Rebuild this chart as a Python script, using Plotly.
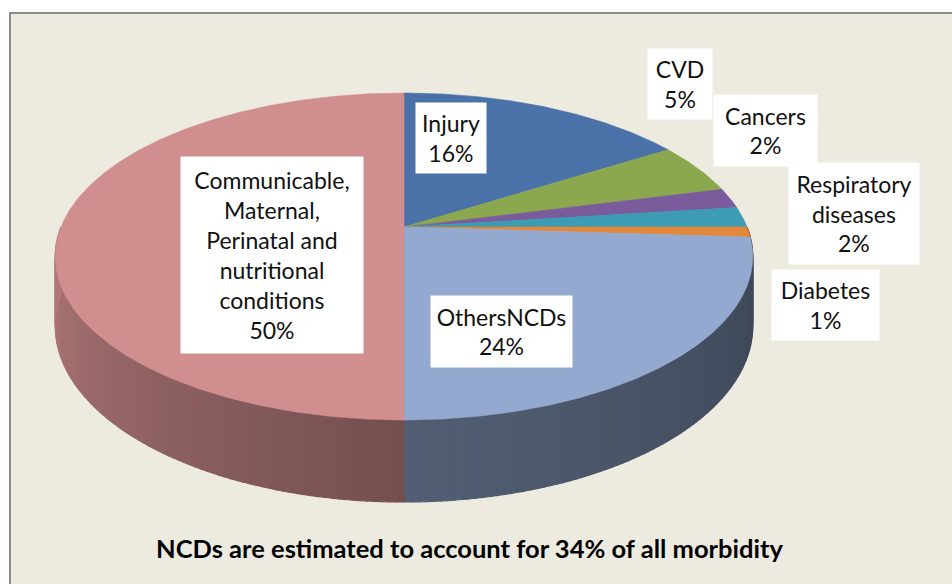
import numpy as np
import plotly.graph_objects as go

# ---- data (clockwise from 12 o'clock) ----
categories = ["Injury", "CVD", "Cancers", "Respiratory diseases", "Diabetes",
              "OthersNCDs",
              "Communicable, Maternal, Perinatal and nutritional conditions"]
values = [16, 5, 2, 2, 1, 24, 50]
display_labels = ["Injury", "CVD", "Cancers", "Respiratory<br>diseases", "Diabetes",
                  "OthersNCDs",
                  "Communicable,<br>Maternal,<br>Perinatal and<br>nutritional<br>conditions"]
colors = ["#4A72A8", "#8CA84E", "#7A5B9B", "#3B9CB3", "#E3883A", "#93A9CF", "#D08E8E"]
title_text = "NCDs are estimated to account for 34% of all morbidity"

# ---- label box layout (center x, center y, width, height) in pixel axes ----
label_boxes = [(451, 138, 70, 70), (680, 84, 64, 70), (765, 130, 103, 71),
               (854, 213, 130, 101), (825, 305, 107, 70), (501, 331, 141, 71),
               (272, 255, 182, 196)]

# ---- 3D perspective pie geometry ----
CX, APEX_Y, A = 404.0, 227.0, 343.0
B, C, DEPTH = -117.2, 0.1804, 67.2


def rim(theta_deg, bottom=False):
    t = np.radians(theta_deg)
    X, Z = np.sin(t), np.cos(t)
    w = 1 + C * Z
    sx = CX + A * X / w
    sy = (APEX_Y + B * Z + (DEPTH if bottom else 0)) / w
    return sx, sy


def hex_rgb(h):
    h = h.lstrip("#")
    return tuple(int(h[i:i + 2], 16) for i in (0, 2, 4))


def shade(theta):
    # darker toward the right/front, lighter on the left
    return float(np.interp(theta, [90, 180, 270], [0.40, 0.56, 0.86]))


def rgb(col, f):
    r, g, b = hex_rgb(col)
    return f"rgb({int(r * f)},{int(g * f)},{int(b * f)})"


fig = go.Figure()

total = float(sum(values))
bounds = np.concatenate([[0], np.cumsum(values)]) / total * 360.0

# side walls (front half only), drawn as thin shaded strips
for i, col in enumerate(colors):
    t0, t1 = max(bounds[i], 90.0), min(bounds[i + 1], 270.0)
    if t1 <= t0:
        continue
    n = max(1, int(np.ceil((t1 - t0) / 1.0)))
    edges = np.linspace(t0, t1, n + 1)
    for a0, a1 in zip(edges[:-1], edges[1:]):
        ts = np.linspace(a0, a1, 4)
        tx, ty = rim(ts)
        bx, by = rim(ts[::-1], bottom=True)
        c = rgb(col, shade((a0 + a1) / 2))
        fig.add_trace(go.Scatter(
            x=np.concatenate([tx, bx, tx[:1]]), y=np.concatenate([ty, by, ty[:1]]),
            mode="lines", fill="toself", fillcolor=c, line=dict(color=c, width=1.2),
            hoverinfo="skip", showlegend=False))

# top faces
for i, col in enumerate(colors):
    ts = np.linspace(bounds[i], bounds[i + 1], max(3, int((bounds[i + 1] - bounds[i]) * 2)))
    tx, ty = rim(ts)
    fig.add_trace(go.Scatter(
        x=np.concatenate([[CX], tx, [CX]]), y=np.concatenate([[APEX_Y], ty, [APEX_Y]]),
        mode="lines", fill="toself", fillcolor=col,
        line=dict(color=col, width=0.6), name=categories[i],
        hoverinfo="skip", showlegend=False))

# labels
for lab, v, (bx, by, bw, bh) in zip(display_labels, values, label_boxes):
    fig.add_annotation(x=bx, y=by, xref="x", yref="y", text=f"{lab}<br>{v}%",
                       showarrow=False, bgcolor="white", width=bw, height=bh,
                       borderpad=0, align="center", valign="middle",
                       font=dict(family="Lato", size=23, color="#111111"))

fig.add_annotation(x=469, y=548, xref="x", yref="y", text=title_text, showarrow=False,
                   font=dict(family="Lato", size=25.5, color="black", weight="bold"))

fig.add_shape(type="rect", x0=10, y0=13, x1=960, y1=600, xref="x", yref="y",
              fillcolor="#EDEBE0", line=dict(color="#8C8C8C", width=2), layer="below")

fig.update_layout(
    width=952, height=584, margin=dict(l=0, r=0, t=0, b=0),
    paper_bgcolor="white", plot_bgcolor="white",
    xaxis=dict(range=[0, 952], visible=False, fixedrange=True),
    yaxis=dict(range=[584, 0], visible=False, fixedrange=True),
)

fig.write_html("out.html", config={"displayModeBar": False},
               post_script="document.body.style.margin='0';document.body.style.overflow='hidden';")
